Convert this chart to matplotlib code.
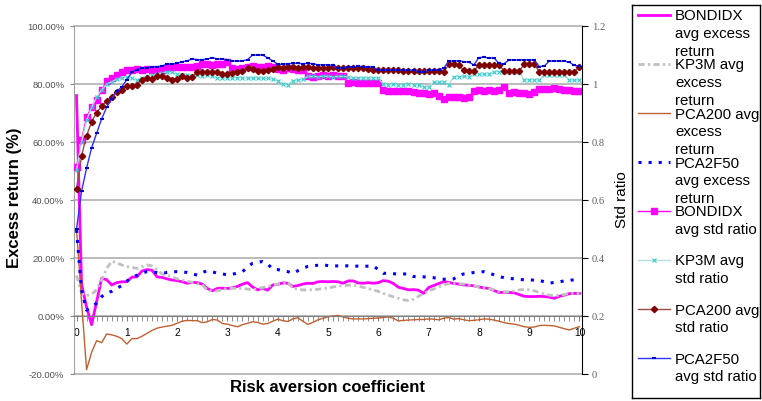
import numpy as np
import matplotlib
matplotlib.use("Agg")
import matplotlib.pyplot as plt
from matplotlib.ticker import FixedLocator, MultipleLocator

plt.rcParams['font.family'] = ['Liberation Sans', 'DejaVu Sans']

# --- data: risk aversion coefficient 0, 0.1, ..., 10 (category axis) ---
risk_aversion = np.arange(101) / 10

# average excess return (%), left axis
bondidx_excess = [
    76, 11, 3, -3, 5, 13, 12.5, 10.7, 11.5, 11.8,
    11.8, 13.4, 13.5, 15.5, 16, 15.8, 13.5, 13.3, 12.8, 12.4,
    12.2, 11.8, 11.3, 11.6, 11.5, 11.0, 9.5, 8.7, 9.5, 9.6,
    9.5, 9.7, 10.2, 11.0, 11.5, 10.0, 9.0, 9.6, 8.9, 10.7,
    10.9, 11.4, 11.3, 10.2, 10.5, 11.0, 11.3, 11.2, 11.8, 11.9,
    11.8, 11.9, 11.8, 11.3, 12.1, 12.1, 11.4, 11.3, 11.5, 11.3,
    11.5, 12.2, 12.0, 11.2, 9.9, 9.5, 9.0, 9.1, 8.9, 7.8,
    9.8, 10.5, 11.2, 11.8, 11.6, 11.2, 11.0, 10.7, 10.6, 10.4,
    10.0, 9.7, 9.5, 8.8, 8.1, 8.2, 8.1, 8.0, 7.4, 6.8,
    6.7, 6.7, 6.8, 6.7, 6.5, 6.1, 6.8, 7.2, 7.7, 7.8, 7.8]
kp3m_excess = [
    14, 8, 7, 7.5, 9, 12.5, 16.4, 18.9, 18.3, 17.6,
    17.0, 16.8, 16.4, 17.0, 17.6, 17.3, 16.0, 14.5, 14.1, 13.5,
    12.8, 12.4, 12.0, 11.6, 11.2, 10.7, 9.0, 8.6, 8.7, 9.2,
    9.5, 9.6, 9.5, 9.5, 9.3, 9.0, 9.4, 9.8, 10.1, 10.7,
    11.0, 11.3, 11.8, 9.5, 9.3, 9.0, 9.0, 9.1, 9.2, 9.5,
    9.6, 10.0, 10.3, 10.4, 10.6, 10.7, 10.3, 9.9, 9.5, 9.0,
    8.5, 7.8, 7.2, 6.6, 6.1, 5.6, 5.3, 5.8, 6.8, 7.8,
    8.6, 9.3, 10.0, 10.6, 11.3, 11.2, 11.1, 11.0, 10.7, 10.4,
    10.0, 9.8, 9.4, 9.0, 8.4, 8.3, 8.4, 8.6, 9.0, 9.2,
    9.0, 8.7, 8.1, 7.6, 7.2, 7.0, 7.1, 7.4, 7.8, 7.8, 7.8]
pca200_excess = [
    30, 5, -18.5, -12.5, -8.5, -9.2, -6.2, -6.5, -7.0, -7.8,
    -9.7, -7.8, -7.8, -7.0, -6.0, -5.0, -4.2, -3.8, -3.5, -3.2,
    -2.5, -1.8, -1.5, -1.6, -1.6, -2.3, -2.0, -1.2, -1.4, -2.6,
    -2.8, -3.3, -3.7, -3.0, -2.5, -2.0, -2.2, -2.8, -2.6, -1.8,
    -1.1, -1.6, -1.9, -1.0, -0.6, -1.8, -2.9, -2.2, -1.3, -0.8,
    -0.3, 0.0, 0.2, -0.3, -0.8, -1.0, -1.0, -1.0, -0.9, -0.8,
    -0.7, -0.5, -0.3, -0.8, -1.7, -1.5, -1.4, -1.3, -1.2, -1.2,
    -1.0, -1.1, -1.3, -0.8, -0.5, -1.1, -0.9, -1.3, -1.6, -1.5,
    -1.3, -1.0, -1.1, -1.4, -1.8, -2.3, -2.6, -2.8, -3.2, -3.7,
    -3.9, -3.8, -3.3, -3.2, -3.3, -3.4, -3.9, -4.4, -4.8, -4.2, -3.7]
pca2f50_excess = [
    29.7, 9, 2, 3.2, 4.4, 6.7, 8, 8.5, 9.5, 10.5,
    12, 13.3, 14, 14.8, 15.3, 15.2, 15.0, 14.7, 15.0, 15.2,
    15.3, 15.2, 15.0, 14.5, 14.1, 15.0, 15.6, 15.2, 14.8, 14.5,
    14.2, 14.4, 14.8, 15.3, 16.8, 18.2, 18.5, 18.8, 18.0, 16.1,
    16.0, 15.6, 15.3, 14.7, 15.6, 16.5, 17.1, 17.3, 17.5, 17.6,
    17.4, 17.2, 17.3, 17.3, 17.3, 17.2, 17.2, 17.1, 17.2, 17.3,
    16.0, 14.7, 14.8, 14.6, 14.4, 14.5, 14.5, 13.6, 13.6, 13.5,
    13.4, 13.2, 12.9, 12.7, 12.6, 12.8, 14.0, 14.5, 14.7, 15.0,
    15.1, 15.3, 14.8, 14.2, 13.6, 13.2, 13.0, 12.8, 12.6, 12.5,
    12.4, 12.4, 12.3, 11.8, 11.3, 11.6, 11.8, 12.1, 12.3, 12.5, 12.6]

# average std ratio, right axis
bondidx_std = [
    0.714, 0.807, 0.886, 0.92, 0.945, 0.979, 1.01, 1.021, 1.031, 1.041,
    1.048, 1.050, 1.052, 1.050, 1.052, 1.050, 1.048, 1.050, 1.055, 1.058,
    1.060, 1.059, 1.057, 1.060, 1.062, 1.068, 1.068, 1.066, 1.068, 1.070,
    1.075, 1.055, 1.052, 1.056, 1.060, 1.062, 1.058, 1.060, 1.062, 1.058,
    1.052, 1.050, 1.054, 1.052, 1.050, 1.050, 1.026, 1.025, 1.028, 1.030,
    1.029, 1.030, 1.028, 1.026, 1.004, 1.006, 1.004, 1.002, 1.004, 1.005,
    1.003, 0.978, 0.976, 0.975, 0.977, 0.975, 0.976, 0.974, 0.968, 0.970,
    0.966, 0.968, 0.958, 0.948, 0.955, 0.954, 0.956, 0.953, 0.955, 0.976,
    0.978, 0.977, 0.978, 0.976, 0.978, 0.990, 0.970, 0.972, 0.968, 0.970,
    0.966, 0.972, 0.982, 0.984, 0.982, 0.985, 0.982, 0.978, 0.978, 0.976, 0.976]
kp3m_std = [
    0.703, 0.80, 0.875, 0.92, 0.955, 0.98, 1.0, 1.008, 1.016, 1.022,
    1.024, 1.020, 1.014, 1.020, 1.026, 1.031, 1.034, 1.038, 1.042, 1.040,
    1.035, 1.030, 1.030, 1.029, 1.030, 1.028, 1.030, 1.029, 1.022, 1.022,
    1.020, 1.022, 1.022, 1.021, 1.020, 1.020, 1.021, 1.019, 1.020, 1.018,
    1.012, 1.000, 0.998, 1.012, 1.014, 1.016, 1.026, 1.026, 1.025, 1.027,
    1.026, 1.025, 1.026, 1.026, 1.024, 1.022, 1.020, 1.021, 1.020, 1.022,
    1.020, 1.000, 0.998, 1.000, 0.998, 0.997, 0.999, 0.998, 0.996, 0.990,
    0.990, 1.006, 1.006, 1.006, 0.997, 1.025, 1.025, 1.026, 1.025, 1.034,
    1.034, 1.034, 1.034, 1.042, 1.043, 1.043, 1.043, 1.043, 1.040, 1.014,
    1.014, 1.014, 1.014, 1.031, 1.031, 1.031, 1.030, 1.031, 1.014, 1.013, 1.014]
pca200_std = [
    0.638, 0.752, 0.821, 0.87, 0.901, 0.924, 0.941, 0.956, 0.973, 0.979,
    0.993, 0.993, 0.997, 1.014, 1.020, 1.018, 1.028, 1.028, 1.020, 1.014,
    1.016, 1.026, 1.022, 1.024, 1.040, 1.040, 1.040, 1.041, 1.041, 1.034,
    1.036, 1.038, 1.042, 1.046, 1.054, 1.052, 1.046, 1.045, 1.047, 1.052,
    1.057, 1.056, 1.058, 1.057, 1.056, 1.057, 1.058, 1.056, 1.054, 1.055,
    1.056, 1.057, 1.056, 1.055, 1.054, 1.054, 1.055, 1.054, 1.053, 1.048,
    1.048, 1.047, 1.048, 1.048, 1.047, 1.045, 1.046, 1.044, 1.045, 1.046,
    1.045, 1.044, 1.046, 1.040, 1.068, 1.068, 1.066, 1.047, 1.046, 1.044,
    1.066, 1.066, 1.067, 1.066, 1.066, 1.045, 1.044, 1.045, 1.044, 1.068,
    1.068, 1.068, 1.043, 1.043, 1.043, 1.042, 1.043, 1.042, 1.040, 1.041, 1.060]
pca2f50_std = [
    0.50, 0.63, 0.71, 0.78, 0.83, 0.88, 0.92, 0.95, 0.975, 0.99,
    1.015, 1.040, 1.050, 1.054, 1.056, 1.060, 1.060, 1.062, 1.069, 1.069,
    1.072, 1.077, 1.080, 1.086, 1.084, 1.084, 1.086, 1.091, 1.086, 1.086,
    1.084, 1.079, 1.079, 1.080, 1.084, 1.100, 1.100, 1.100, 1.090, 1.080,
    1.068, 1.068, 1.070, 1.071, 1.071, 1.070, 1.071, 1.070, 1.066, 1.066,
    1.066, 1.064, 1.054, 1.055, 1.060, 1.060, 1.061, 1.060, 1.060, 1.058,
    1.048, 1.048, 1.048, 1.048, 1.048, 1.048, 1.048, 1.048, 1.043, 1.043,
    1.047, 1.048, 1.050, 1.054, 1.079, 1.079, 1.080, 1.077, 1.075, 1.066,
    1.091, 1.092, 1.090, 1.090, 1.071, 1.070, 1.083, 1.083, 1.083, 1.083,
    1.083, 1.083, 1.060, 1.062, 1.079, 1.079, 1.079, 1.079, 1.075, 1.064, 1.062]

excess_labels = ["BONDIDX\navg excess\nreturn", "KP3M avg\nexcess\nreturn",
                 "PCA200 avg\nexcess\nreturn", "PCA2F50\navg excess\nreturn"]
std_labels = ["BONDIDX\navg std ratio", "KP3M avg\nstd ratio",
              "PCA200 avg\nstd ratio", "PCA2F50\navg std ratio"]

# --- styles ---
excess_styles = [
    dict(color='#FF00FF', lw=2.0),
    dict(color='#C0C0C0', lw=2.0, ls=(0, (2.2, 1.2, 0.8, 1.2))),
    dict(color='#C0602F', lw=1.0),
    dict(color='#0000FF', lw=2.2, ls=(0, (1, 2.3))),
]
std_styles = [
    dict(color='#FF00FF', lw=1.0, marker='s', ms=4.2, mfc='#FF00FF', mec='#FF00FF'),
    dict(color='#B8E0E0', lw=1.0, marker='x', ms=3.5, mec='#33CCCC', mew=0.8),
    dict(color='#A04848', lw=1.0, marker='D', ms=3.2, mfc='#800000', mec='#800000'),
    dict(color='#3030FF', lw=1.0, marker='_', ms=3.0, mec='#0000CC', mew=1.5),
]

W, H = 762, 401
fig = plt.figure(figsize=(W / 100, H / 100), dpi=100)
fig.patch.set_facecolor('white')


def fx(px):
    return px / W


def fy(py):
    return 1 - py / H


ax = fig.add_axes([fx(74), fy(374), (582 - 74) / W, (374 - 26) / H])
ax2 = ax.twinx()

for vals, st in zip([bondidx_excess, kp3m_excess, pca200_excess, pca2f50_excess], excess_styles):
    ax.plot(risk_aversion, vals, **st)
for vals, st in zip([bondidx_std, kp3m_std, pca200_std, pca2f50_std], std_styles):
    ax2.plot(risk_aversion, vals, **st)

# left axis
ax.set_xlim(-0.05, 10.05)
ax.set_ylim(-20, 100)
yt = list(range(-20, 101, 20))
ax.set_yticks(yt)
ax.set_yticklabels([f"{v:.2f}%" for v in yt])
ax.tick_params(axis='y', length=3, color='#909090', labelsize=6.8,
               labelcolor='#505050', pad=4)
ax.grid(axis='y', color='#A8A8A8', lw=1.1)
for gl in ax.get_ygridlines():
    gl.set_clip_on(False)
ax.set_axisbelow(True)

ax.xaxis.set_major_locator(FixedLocator(range(11)))
ax.set_xticklabels([str(i) for i in range(11)])
ax.xaxis.set_minor_locator(MultipleLocator(0.1))
ax.tick_params(axis='x', which='both', direction='out', length=3.5,
               color='#808080', labelsize=7.4, pad=5)
ax.spines['bottom'].set_position(('data', 0))
ax.spines['bottom'].set_color('#808080')
ax.spines['left'].set_color('#A0A0A0')
ax.spines['top'].set_visible(False)
ax.spines['right'].set_visible(False)

# right axis
ax2.set_ylim(0, 1.2)
rt = [0, 0.2, 0.4, 0.6, 0.8, 1.0, 1.2]
ax2.set_yticks(rt)
ax2.set_yticklabels(['0', '0.2', '0.4', '0.6', '0.8', '1', '1.2'])
ax2.tick_params(axis='y', length=4, color='black', labelsize=7.6,
                labelcolor='#606060', pad=3, labelfontfamily='Liberation Serif')
for s in ['left', 'top', 'bottom']:
    ax2.spines[s].set_visible(False)
ax2.spines['right'].set_color('black')
ax2.patch.set_visible(False)

fig.text(fx(15), fy(198), 'Excess return (%)', rotation=90, ha='center', va='center',
         fontsize=12, fontweight='bold')
fig.text(fx(328), fy(388), 'Risk aversion coefficient', ha='center', va='center',
         fontsize=12, fontweight='bold')
fig.text(fx(622), fy(200), 'Std ratio', rotation=90, ha='center', va='center',
         fontsize=11)

# legend box, laid out in pixel units
leg = fig.add_axes([fx(632), fy(398), (760 - 632) / W, (398 - 5) / H])
leg.set_xlim(0, 128)
leg.set_ylim(393, 0)
leg.set_xticks([])
leg.set_yticks([])
for s in leg.spines.values():
    s.set_color('black')
    s.set_linewidth(1)

entries = list(zip(excess_labels, excess_styles)) + list(zip(std_labels, std_styles))
for k, (lab, st) in enumerate(entries):
    y = 10 + 49 * k
    line_st = {kk: v for kk, v in st.items() if kk not in ('marker', 'ms', 'mfc', 'mec', 'mew')}
    leg.plot([6, 38], [y, y], **line_st)
    if 'marker' in st:
        leg.plot([22], [y], ls='none', marker=st['marker'], ms=st['ms'],
                 mfc=st.get('mfc', st['color']), mec=st.get('mec', st['color']),
                 mew=st.get('mew', 1))
    leg.text(43, y - 5.5, lab, ha='left', va='top', fontsize=10.8, linespacing=1.36)

fig.savefig('out.png', dpi=100)
